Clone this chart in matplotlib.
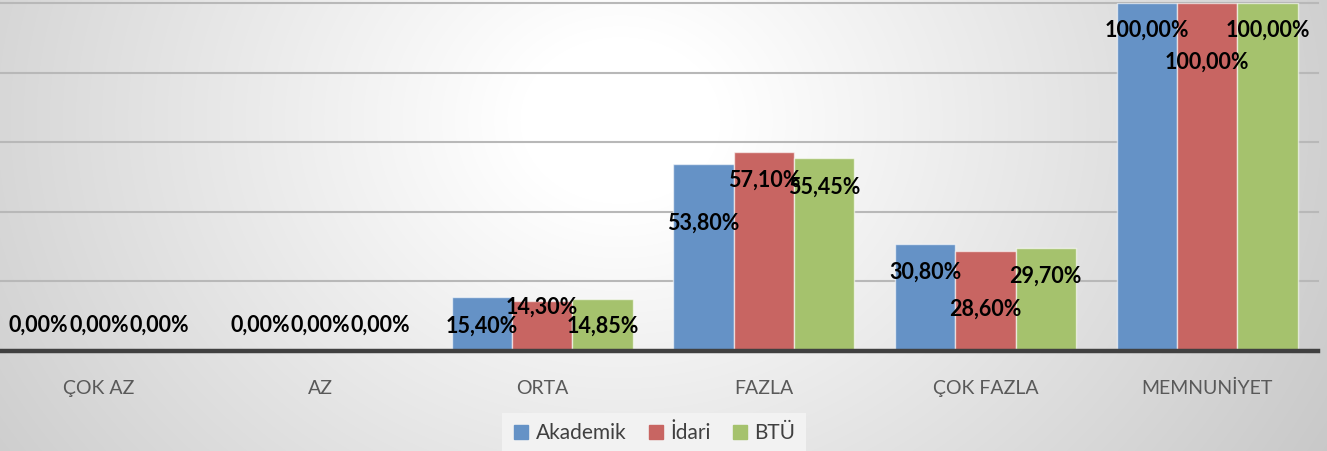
import numpy as np
import matplotlib
matplotlib.use("Agg")
import matplotlib.pyplot as plt
from matplotlib.lines import Line2D

# --- data ---
categories = ["ÇOK AZ", "AZ", "ORTA", "FAZLA", "ÇOK FAZLA", "MEMNUNİYET"]
series_names = ["Akademik", "İdari", "BTÜ"]
akademik = [0.00, 0.00, 15.40, 53.80, 30.80, 100.00]
idari = [0.00, 0.00, 14.30, 57.10, 28.60, 100.00]
btu = [0.00, 0.00, 14.85, 55.45, 29.70, 100.00]

# where the data labels sit (in % units), as in the original chart
label_y = [
    [7.5, 7.5, 7.2, 36.8, 22.7, 92.2],
    [7.5, 7.5, 12.6, 49.1, 12.1, 83.0],
    [7.5, 7.5, 7.2, 47.1, 21.6, 92.2],
]

colors = ["#6592c6", "#c86562", "#a5c26d"]

W, H = 1327, 451
fig = plt.figure(figsize=(W / 100, H / 100), dpi=100)

# radial grey background
bg = fig.add_axes([0, 0, 1, 1], zorder=-10)
yy, xx = np.mgrid[0:H, 0:W]
d = np.hypot((xx - 620) * 1.0, (yy - 120) * 1.2)
v = np.clip(1.03 - 0.0003 * d, 0, 1)
bg.imshow(np.dstack([v, v, v]), aspect="auto", extent=(0, 1, 0, 1))
bg.axis("off")

left = -12 / W
right = 1318 / W
bottom = (H - 351) / H
top = (H - 3) / H
ax = fig.add_axes([left, bottom, right - left, top - bottom])
ax.patch.set_alpha(0)
ax.set_xlim(-0.5, len(categories) - 0.5)
ax.set_ylim(0, 100)

for g in [20, 40, 60, 80, 100]:
    ax.axhline(g, color="#b8b8b8", lw=1.5, zorder=1, clip_on=False)
ax.axhline(0, color="#404040", lw=3.2, zorder=4, clip_on=False)

x = np.arange(len(categories))
bw = 0.272
for i, (vals, c) in enumerate(zip([akademik, idari, btu], colors)):
    pos = x + (i - 1) * bw
    ax.bar(pos, vals, width=bw, color=c, edgecolor=(1, 1, 1, 0.6),
           linewidth=1, zorder=2)
    for px, val, ly in zip(pos, vals, label_y[i]):
        ax.text(px, ly, f"{val:.2f}%".replace(".", ","), ha="center",
                va="center", fontsize=15.5, fontweight="bold",
                family=["Lato", "DejaVu Sans"], color="black", zorder=5)

ax.set_xticks(x)
ax.set_xticklabels(categories, fontsize=14, color="#595959",
                   family=["Lato", "DejaVu Sans"])
ax.tick_params(axis="x", length=0, pad=21)
ax.set_yticks([])
for s in ax.spines.values():
    s.set_visible(False)

handles = [Line2D([], [], marker="s", linestyle="none", markersize=10,
                  markerfacecolor=c, markeredgecolor=c) for c in colors]
leg = fig.legend(handles, series_names, loc="center",
                 bbox_to_anchor=(654 / W, (H - 433) / H), ncol=3,
                 frameon=True, handlelength=0.8, handletextpad=0.3,
                 columnspacing=1.0, borderpad=0.5,
                 prop={"family": ["Lato", "DejaVu Sans"], "size": 15})
leg.get_frame().set_facecolor("#f2f2f2")
leg.get_frame().set_edgecolor("none")
leg.get_frame().set_alpha(1)
leg.get_frame().set_boxstyle("square", pad=0)
for t in leg.get_texts():
    t.set_color("#404040")

fig.savefig("out.png", dpi=100)
